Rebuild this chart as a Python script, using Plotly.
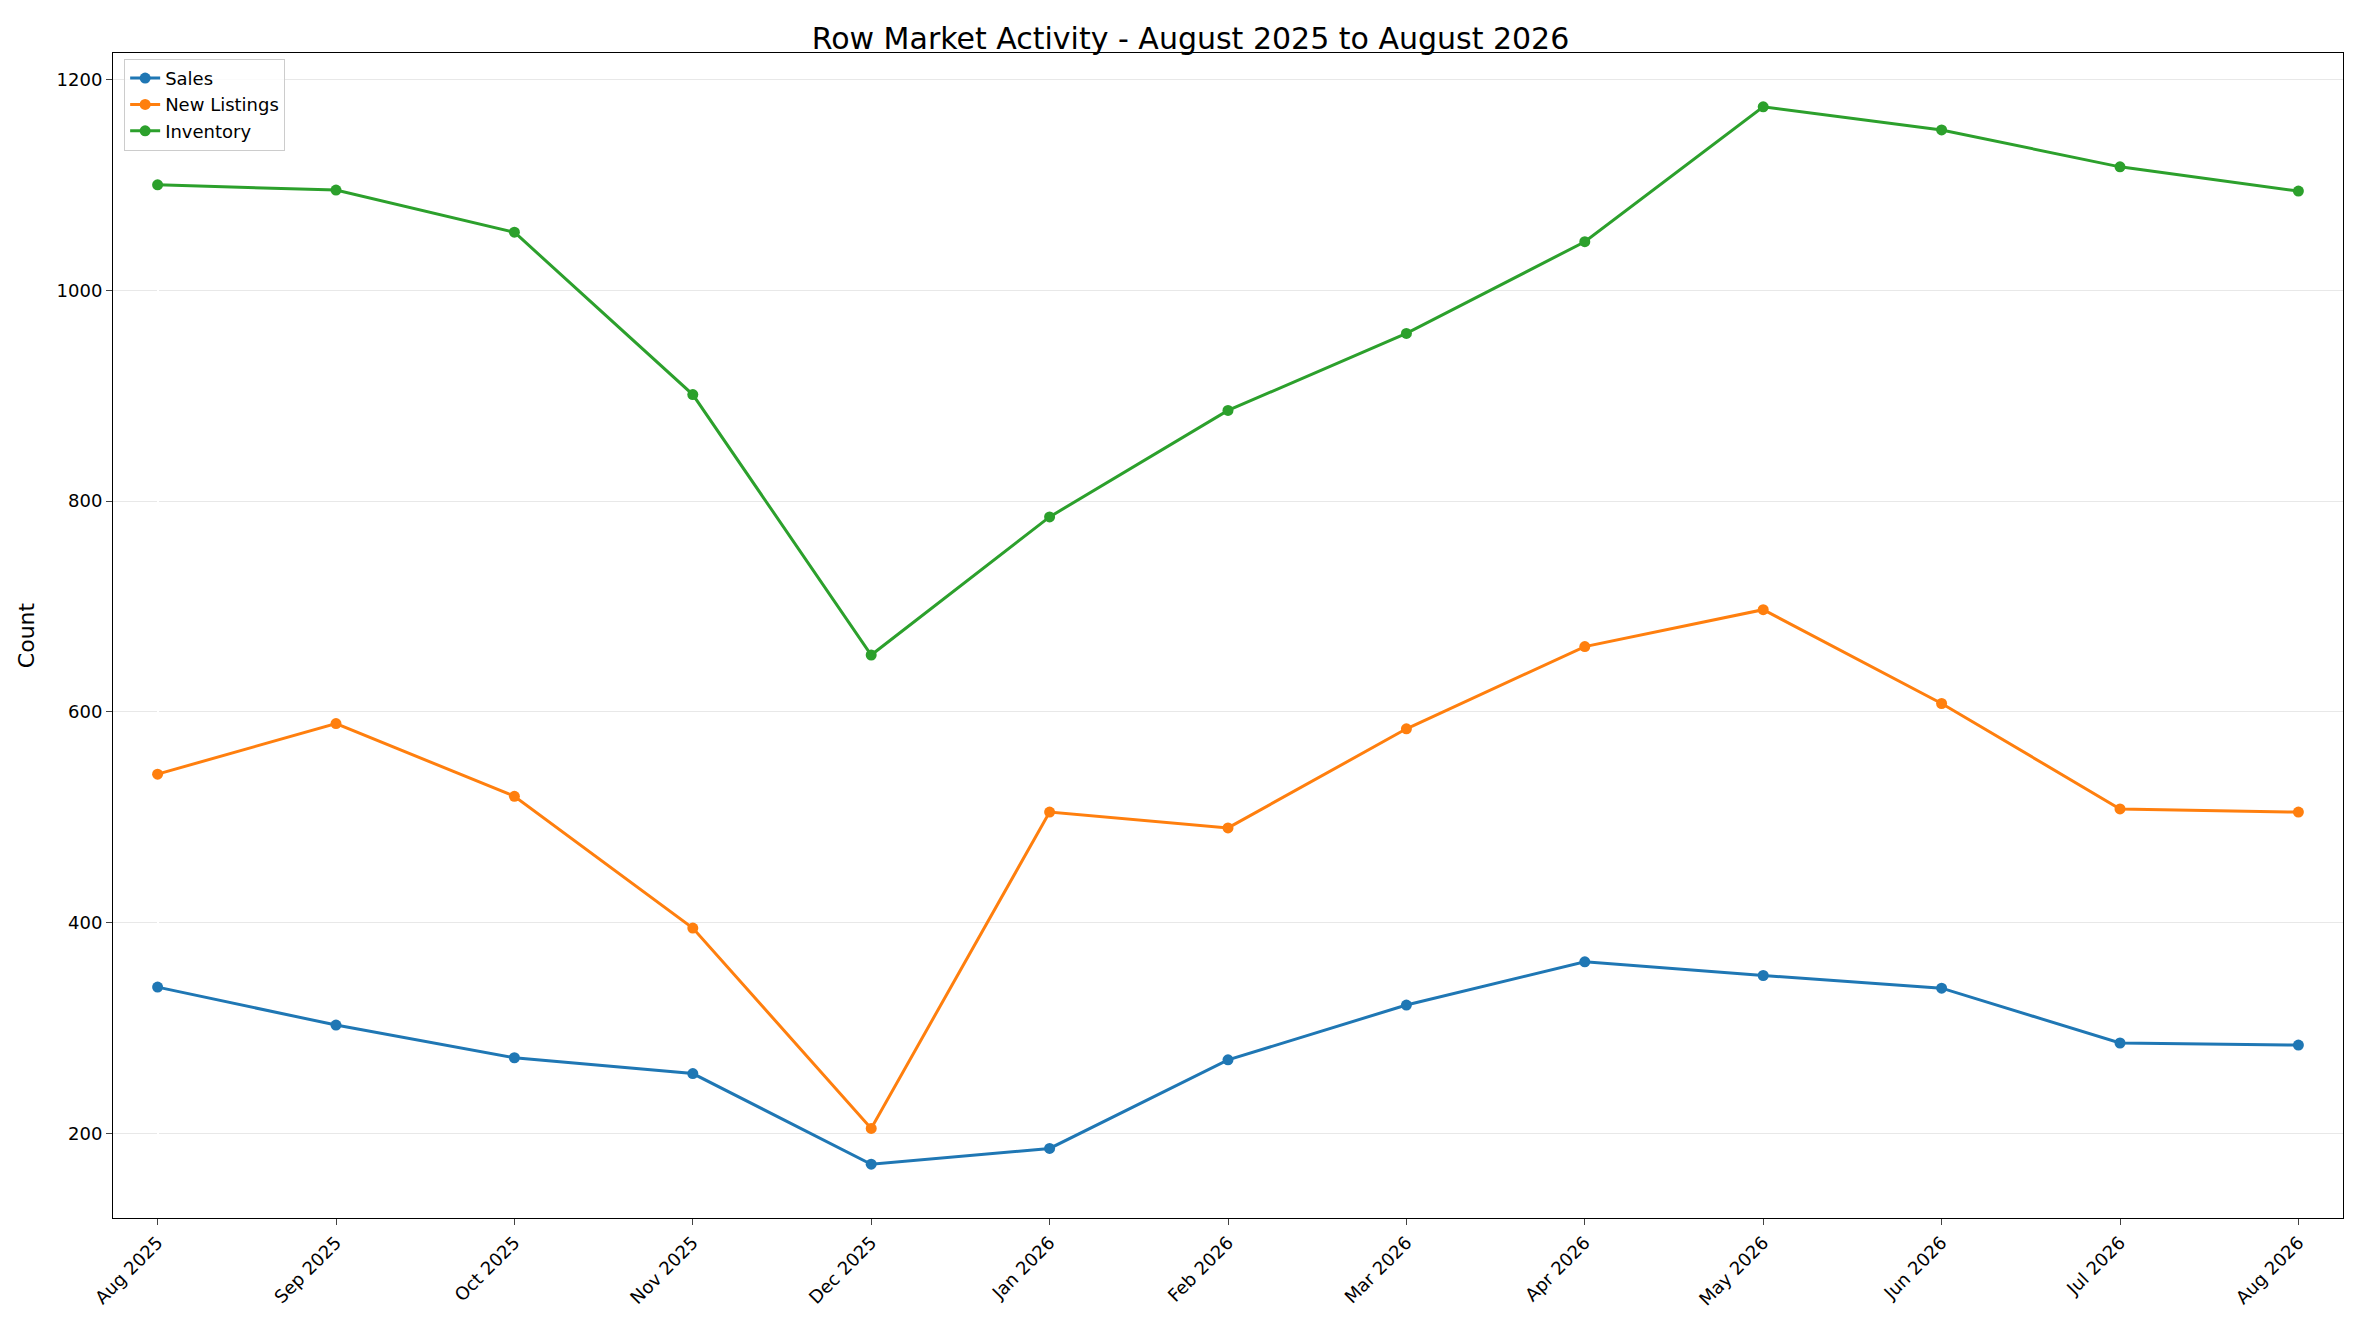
import plotly.graph_objects as go

months = ["Aug 2025", "Sep 2025", "Oct 2025", "Nov 2025", "Dec 2025", "Jan 2026", "Feb 2026",
          "Mar 2026", "Apr 2026", "May 2026", "Jun 2026", "Jul 2026", "Aug 2026"]
sales = [339, 303, 272, 257, 171, 186, 270, 322, 363, 350, 338, 286, 284]
new_listings = [541, 589, 520, 395, 205, 505, 490, 584, 662, 697, 608, 508, 505]
inventory = [1100, 1095, 1055, 901, 654, 785, 886, 959, 1046, 1174, 1152, 1117, 1094]

series = [("Sales", sales, "#1f77b4"), ("New Listings", new_listings, "#ff7f0e"),
          ("Inventory", inventory, "#2ca02c")]

fig = go.Figure()
for name, vals, col in series:
    fig.add_trace(go.Scatter(x=list(range(len(months))), y=vals, name=name, mode="lines+markers",
                             line=dict(color=col, width=3), marker=dict(size=11, color=col)))

fig.update_layout(
    width=2365, height=1318, plot_bgcolor="white", paper_bgcolor="white",
    font=dict(family="DejaVu Sans", size=18, color="black"),
    title=dict(text="Row Market Activity - August 2025 to August 2026", x=0.5, y=0.985,
               xanchor="center", font=dict(size=30)),
    margin=dict(l=105, r=30, t=45, b=108),
    legend=dict(x=0.005, y=0.995, xanchor="left", yanchor="top", bordercolor="#cccccc",
                borderwidth=1, bgcolor="rgba(255,255,255,0.8)", font=dict(size=18)),
    xaxis=dict(tickmode="array", tickvals=list(range(len(months))), ticktext=months,
               tickangle=-45, range=[-0.25, 12.25], showgrid=False, showline=True,
               linecolor="black", mirror=True, ticks="outside", ticklen=6),
    yaxis=dict(title=dict(text="Count"), range=[120, 1225], dtick=200, showgrid=True,
               gridcolor="#e8e8e8", showline=True, linecolor="black", mirror=True,
               ticks="outside", ticklen=6, zeroline=False),
)

fig.write_html("out.html")
